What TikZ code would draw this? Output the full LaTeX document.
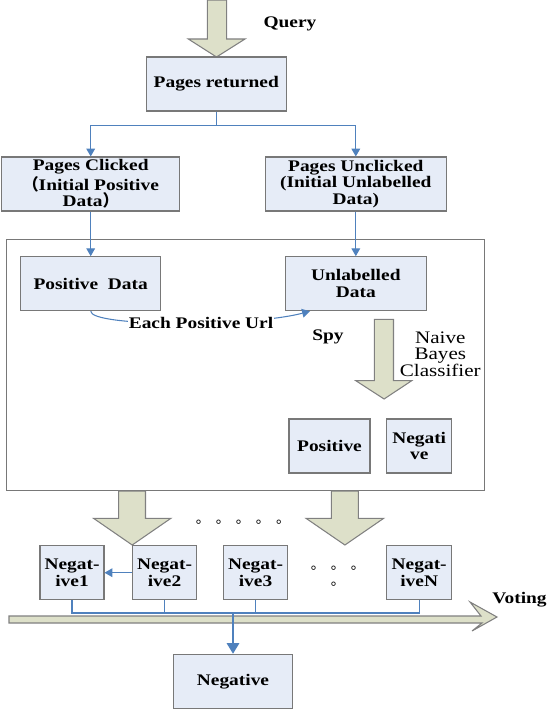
\documentclass[tikz,border=0pt]{standalone}
\usepackage{fontspec}
\setmainfont{Liberation Serif}[FakeStretch=1.2]
\newfontfamily\cjk{Noto Sans CJK SC}
\newfontfamily\cjkdots{Noto Sans CJK SC}[LetterSpace=42.5]
\usepackage{tikz}
\usetikzlibrary{arrows.meta}
\definecolor{boxfill}{RGB}{230,236,247}
\definecolor{boxline}{RGB}{120,120,120}
\definecolor{arrowfill}{RGB}{221,224,201}
\definecolor{linkblue}{RGB}{79,129,189}
\tikzset{
  every box/.style = {draw=boxline, fill=boxfill, line width=0.6pt, align=center,
    font=\bfseries\fontsize{9.2}{9.5}\selectfont, inner sep=1pt},
  box/.style = {every box, minimum width=#1, minimum height=1.08cm},
  fat arrow/.style = {draw=gray, fill=arrowfill, line width=0.6pt},
  link/.style = {draw=linkblue, line width=0.6pt},
  link arrow/.style = {link, -{Triangle[width=5pt,length=4.5pt]}},
  label text/.style = {font=\bfseries\fontsize{9.2}{9.5}\selectfont},
  dot text/.style = {font=\cjkdots\fontsize{8}{8}\selectfont, inner sep=0pt}
}

\begin{document}
\begin{tikzpicture}[x=0.02cm, y=-0.02cm]
  \useasboundingbox (0,0) rectangle (547,709);

  % query
  \draw[fat arrow] (207.3,0) -- (207.3,39) -- (188.3,39) -- (216.5,57) -- (245,39) -- (226.7,39) -- (226.7,0) -- cycle;
  \node[label text] (query) at (290,24) {Query};

  \node[box=2.79cm] (ret) at (216.3,84) {Pages returned};
  \node[box=3.56cm] (clk) at (90.7,184) {Pages Clicked\\{\cjk （}Initial Positive\\Data{\cjk ）}};
  \node[box=3.63cm] (unc) at (355.8,184) {Pages Unclicked\\(Initial Unlabelled\\Data)};

  \draw[link] (ret.south) -- ++(0,14) coordinate (split);
  \draw[link arrow] (split) -| (clk.north);
  \draw[link arrow] (split) -| (unc.north);

  % spy part
  \node[draw=boxline, line width=0.6pt, minimum width=9.57cm, minimum height=5.03cm] (spy) at (245.6,365.2) {};
  \node[box=2.81cm] (pos) at (90.7,283.7) {Positive\ \ Data};
  \node[box=2.81cm] (unl) at (355.8,283.7) {Unlabelled\\Data};
  \draw[link arrow] (clk) -- (pos);
  \draw[link arrow] (unc) -- (unl);
  \draw[link arrow] (pos.south) .. controls (90.7,327) and (250,327) .. ([xshift=0.5cm]unl.south west)
    node[pos=0.58, fill=white, inner sep=0.5pt, label text] (url) {Each Positive Url};
  \node[label text] (spyname) at (327.9,336.7) {Spy};

  \draw[fat arrow] (374.3,319.3) -- (374.3,380.7) -- (355.8,380.7) -- (384.1,399) -- (411.7,380.7) -- (393.5,380.7) -- (393.5,319.3) -- cycle;
  \node[align=center, font=\fontsize{10}{9.5}\selectfont] (nb) at (440.3,354) {Naive\\Bayes\\Classifier};
  \node[box=1.62cm] (p) at (329.5,446) {Positive};
  \node[box=1.31cm] (n) at (419.2,446) {Negati\\ve};

  % several runs
  \draw[fat arrow] (118.6,491) -- (118.6,518.3) -- (93.5,518.3) -- (132.2,545) -- (170.9,518.3) -- (145.5,518.3) -- (145.5,491) -- cycle;
  \draw[fat arrow] (331.4,491) -- (331.4,518.3) -- (306,518.3) -- (344.9,545) -- (383.7,518.3) -- (358.3,518.3) -- (358.3,491) -- cycle;
  \node[dot text] (dots) at (243,522) {。。。。。};

  \node[box=1.28cm] (n1) at (72,572.7) {Negat-\\ive1};
  \node[box=1.28cm] (n2) at (164.5,572.7) {Negat-\\ive2};
  \node[box=1.29cm] (n3) at (255.5,572.7) {Negat-\\ive3};
  \node[box=1.31cm] (nN) at (419.2,572.7) {Negat-\\iveN};
  \node[dot text] (moredots) at (338,568) {。。。};
  \node[dot text] (lastdot) at (338,584) {。};
  \draw[link arrow] (n2) -- (n1);

  % voting
  \draw[fat arrow] (9,616) -- (481,616) -- (470,602) -- (497,617) -- (472,631) -- (482,623) -- (9,623) -- cycle;
  \node[label text, anchor=west, inner sep=0pt] (voting) at (492,600) {Voting};
  \coordinate (vote) at (233,613);
  \draw[link] (n1.south) |- (vote) -| (nN.south);
  \draw[link] (n2.south) -- (n2.south |- vote);
  \draw[link] (n3.south) -- (n3.south |- vote);
  \node[box=2.37cm] (neg) at (233,681.3) {Negative};
  \draw[link, line width=1pt, -{Triangle[width=7pt,length=6pt]}] (vote) -- (neg.north);
\end{tikzpicture}
\end{document}
